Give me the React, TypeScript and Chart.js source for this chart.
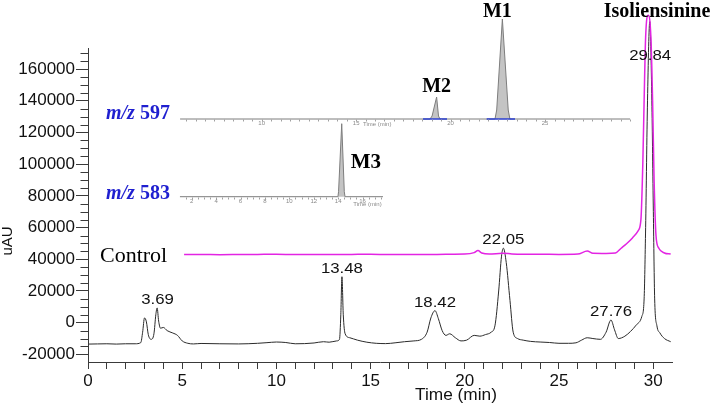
import React, { useEffect, useRef } from 'react';
import { Chart, registerables } from 'chart.js';

Chart.register(...registerables);

// ---------- main chromatogram: sample (black), Time (min) vs uAU ----------
const sampleTime = [
  0, 0.5, 1, 1.5, 2, 2.5, 2.8, 2.9, 3.0, 3.1,
  3.2, 3.35, 3.5, 3.6, 3.67, 3.75, 3.85, 4.0, 4.2, 4.5,
  4.75, 5.0, 5.3, 5.6, 6, 7, 8, 9, 9.5, 10,
  10.5, 11, 11.5, 12, 12.5, 12.8, 13.2, 13.35, 13.42, 13.48,
  13.55, 13.65, 13.9, 14.3, 14.8, 15.3, 15.8, 16.3, 16.8, 17.3,
  17.7, 18.0, 18.2, 18.42, 18.6, 18.8, 19.0, 19.2, 19.5, 19.8,
  20.1, 20.5, 20.8, 21.1, 21.4, 21.6, 21.8, 21.95, 22.05, 22.2,
  22.4, 22.57, 22.8, 23.1, 23.5, 24, 24.5, 25, 25.5, 25.9,
  26.2, 26.5, 26.8, 27.2, 27.5, 27.76, 27.95, 28.15, 28.5, 28.8,
  29.1, 29.4, 29.52, 29.6, 29.7, 29.82, 29.93, 30.01, 30.08, 30.2,
  30.36, 30.6, 30.93,
];
const sampleSignal = [
  -13500, -13400, -13300, -13500, -13300, -13300, -12600, -6000, 3000, 500,
  -7500, -10500, -7000, 5000, 9300, 1000, -3500, -3000, -5000, -6500,
  -8000, -11500, -13000, -13400, -13100, -13300, -13400, -13000, -12600, -12200,
  -12500, -13300, -13200, -12800, -12000, -12300, -11500, -10500, 5000, 29000,
  5000, -7000, -9500, -11000, -12300, -13000, -13200, -12700, -12000, -11500,
  -10500, -6000, 3000, 7600, 2500, -5000, -8000, -7000, -9500, -11500,
  -11000, -8000, -8500, -7500, -6000, -2000, 20000, 42000, 47000, 38000,
  14000, -6000, -10000, -11000, -11800, -12200, -12500, -13000, -13000, -12700,
  -11000, -9500, -10000, -10500, -6000, 1700, -4500, -10000, -8500, -5500,
  -1500, 4000, 15000, 60000, 140000, 190000, 140000, 70000, 15000, -2000,
  -6500, -10000, -12000,
];

// ---------- control (magenta) ----------
const controlTime = [
  5.1, 6, 7, 8, 9, 10, 11, 12, 13, 14,
  15, 16, 17, 18, 19, 20, 20.5, 20.7, 20.9, 21.3,
  22, 22.5, 23, 24, 25, 26, 26.5, 26.8, 27.5, 28.0,
  28.3, 28.6, 28.9, 29.2, 29.35, 29.45, 29.52, 29.6, 29.74, 29.88,
  29.97, 30.05, 30.15, 30.3, 30.6, 30.93,
];
const controlSignal = [
  43000, 43100, 42900, 43000, 43100, 43200, 43000, 43100, 43000, 43100,
  43200, 43000, 43100, 43000, 43200, 43300, 44200, 45500, 44000, 43300,
  43800, 43400, 43200, 43200, 43100, 43300, 45200, 43800, 43700, 44000,
  47000, 50000, 53500, 58000, 65000, 100000, 140000, 180000, 194000, 180000,
  140000, 90000, 55000, 47000, 44000, 43300,
];

// ---------- inset m/z 597 (own time axis, relative intensity) ----------
const mz597Time = [5.68, 18.91, 19.02, 19.26, 19.36, 19.44, 22.35, 22.44, 22.74, 23.05, 23.14, 29.5];
const mz597Signal = [0, 0, 3, 22, 3, 0, 0, 9, 100, 9, 0, 0];
const mz597BaseStart = [18.54, 21.91];
const mz597BaseEnd = [19.81, 23.41];
const mz597TickLabels = [10, 15, 20, 25];

// ---------- inset m/z 583 ----------
const mz583Time = [1.04, 13.98, 14.03, 14.29, 14.5, 14.56, 17.67];
const mz583Signal = [0, 0, 5, 73, 5, 0, 0];
const mz583TickLabels = [2, 4, 6, 8, 10, 12, 14, 16];

// ---------- main axis tick values ----------
const yTickValues = [-20000, 0, 20000, 40000, 60000, 80000, 100000, 120000, 140000, 160000];
const xTickValues = [0, 1, 2, 3, 4, 5, 6, 7, 8, 9, 10, 11, 12, 13, 14, 15, 16, 17, 18, 19, 20, 21, 22, 23, 24, 25, 26, 27, 28, 29, 30];

// ---------- peak labels (retention times) ----------
const peakLabels = ['3.69', '13.48', '18.42', '22.05', '27.76', '29.84'];

const SANS = "'Liberation Sans', Arial, sans-serif";
const SERIF = "'Liberation Serif', 'Times New Roman', serif";
const AXIS = '#3a3a3a';
const TEXT = '#111111';
const MAGENTA = '#e324e3';
const MZ_BLUE = '#1f1fd0';
const Y_AXIS_TOP = 173300;

const pts = (xs: number[], ys: number[]) => xs.map((t, i) => ({ x: t, y: ys[i] }));

const segData = () => {
  const out: any[] = [];
  mz597BaseStart.forEach((s, i) => {
    if (i > 0) out.push({ x: (mz597BaseEnd[i - 1] + s) / 2, y: null });
    out.push({ x: s, y: 0 });
    out.push({ x: mz597BaseEnd[i], y: 0 });
  });
  return out;
};

const peakHeight = (t: number) => {
  let best = -Infinity;
  sampleTime.forEach((st, i) => {
    if (Math.abs(st - t) <= 0.12) best = Math.max(best, sampleSignal[i]);
  });
  return best;
};

// text drawn slightly stretched horizontally, as in the source figure
const wideText = (ctx: CanvasRenderingContext2D, s: string, x: number, y: number, sx: number) => {
  ctx.save();
  ctx.translate(x, y);
  ctx.scale(sx, 1);
  ctx.fillText(s, 0, 0);
  ctx.restore();
};

const drawMz = (ctx: CanvasRenderingContext2D, x: number, base: number, num: string) => {
  ctx.fillStyle = MZ_BLUE;
  ctx.textAlign = 'left';
  ctx.textBaseline = 'alphabetic';
  ctx.font = `italic bold 20px ${SERIF}`;
  ctx.fillText('m/z', x, base);
  const w = ctx.measureText('m/z').width;
  ctx.font = `bold 20px ${SERIF}`;
  ctx.fillText(' ' + num, x + w, base);
};

const overlayPlugin = {
  id: 'overlay',
  afterDraw(chart: any) {
    const ctx: CanvasRenderingContext2D = chart.ctx;
    const { x, y, xA, yA, xB, yB } = chart.scales;
    const area = chart.chartArea;
    ctx.save();

    // main ordinate line (ends at top of the axis) and its minor ticks
    const ax = Math.round(area.left) + 0.5;
    ctx.strokeStyle = AXIS;
    ctx.lineWidth = 1;
    ctx.beginPath();
    ctx.moveTo(ax, y.getPixelForValue(Y_AXIS_TOP));
    ctx.lineTo(ax, Math.round(area.bottom) + 0.5);
    for (let v = -20000; v <= Y_AXIS_TOP; v += 5000) {
      if (v % 20000 === 0) continue;
      const py = Math.round(y.getPixelForValue(v)) + 0.5;
      ctx.moveTo(ax - 8, py);
      ctx.lineTo(ax, py);
    }
    ctx.stroke();

    // inset axes: tiny ticks and labels
    const insetAxis = (sx: any, sy: any, times: number[], labels: number[], titleX: number, titleDy: number, titleAlign: CanvasTextAlign) => {
      const b = Math.round(sy.getPixelForValue(0)) + 0.5;
      ctx.strokeStyle = '#a0a0a0';
      ctx.lineWidth = 1;
      ctx.beginPath();
      const from = Math.ceil(times[0] * 2) / 2;
      const to = times[times.length - 1];
      for (let t = from; t <= to + 1e-9; t += 0.5) {
        const px = Math.round(sx.getPixelForValue(t)) + 0.5;
        ctx.moveTo(px, b);
        ctx.lineTo(px, b + 2);
      }
      ctx.stroke();
      ctx.fillStyle = '#8a8a8a';
      ctx.font = `6px ${SANS}`;
      ctx.textAlign = 'center';
      ctx.textBaseline = 'middle';
      labels.forEach((l) => ctx.fillText(String(l), sx.getPixelForValue(l), b + 3.5));
      ctx.textAlign = titleAlign;
      ctx.fillText('Time (min)', sx.getPixelForValue(titleX), b + titleDy);
    };
    insetAxis(xA, yA, mz597Time, mz597TickLabels, 15.36, 5, 'left');
    insetAxis(xB, yB, mz583Time, mz583TickLabels, 16.4, 6.5, 'center');

    // retention-time labels
    ctx.fillStyle = TEXT;
    ctx.font = `15px ${SANS}`;
    ctx.textAlign = 'center';
    ctx.textBaseline = 'alphabetic';
    peakLabels.forEach((lab) => {
      const t = parseFloat(lab);
      const py = Math.max(y.getPixelForValue(peakHeight(t)) - 4, area.top + 60);
      wideText(ctx, lab, x.getPixelForValue(t), py, 1.12);
    });

    // compound / trace names
    ctx.fillStyle = '#000';
    ctx.textAlign = 'center';
    ctx.font = `bold 20px ${SERIF}`;
    ctx.fillText('M1', xA.getPixelForValue(22.74) - 5, 17);
    ctx.fillText('Isoliensinine', 657, 17);
    ctx.fillText('M2', xA.getPixelForValue(19.26), yA.getPixelForValue(22) - 5);
    ctx.textAlign = 'left';
    ctx.font = `bold 21px ${SERIF}`;
    ctx.fillText('M3', xB.getPixelForValue(14.29) + 9, 168);

    drawMz(ctx, 106, Math.round(yA.getPixelForValue(0)), '597');
    drawMz(ctx, 106, Math.round(yB.getPixelForValue(0)) + 2, '583');

    ctx.fillStyle = '#000';
    ctx.textAlign = 'left';
    ctx.font = `22px ${SERIF}`;
    ctx.fillText('Control', 100, y.getPixelForValue(43000) + 7);

    // axis titles
    ctx.fillStyle = TEXT;
    ctx.font = `16px ${SANS}`;
    ctx.textAlign = 'center';
    ctx.textBaseline = 'middle';
    wideText(ctx, 'Time (min)', 456, 396, 1.08);
    ctx.save();
    ctx.translate(8, 241);
    ctx.rotate(-Math.PI / 2);
    ctx.font = `15px ${SANS}`;
    ctx.fillText('uAU', 0, 0);
    ctx.restore();

    ctx.restore();
  },
};

export default function App() {
  const ref = useRef<HTMLCanvasElement>(null);
  useEffect(() => {
    const canvas = ref.current;
    if (!canvas) return;
    const chart = new Chart(canvas, {
      type: 'line',
      data: {
        datasets: [
          {
            label: 'Control',
            data: pts(controlTime, controlSignal),
            borderColor: MAGENTA,
            borderWidth: 1.5,
            pointRadius: 0,
            cubicInterpolationMode: 'monotone',
            fill: false,
            xAxisID: 'x',
            yAxisID: 'y',
          },
          {
            label: 'Sample',
            data: pts(sampleTime, sampleSignal),
            borderColor: '#2a2a2a',
            borderWidth: 1,
            pointRadius: 0,
            cubicInterpolationMode: 'monotone',
            fill: false,
            xAxisID: 'x',
            yAxisID: 'y',
          },
          {
            label: 'm/z 597 baseline',
            data: segData(),
            borderColor: '#2b3fcf',
            borderWidth: 1.5,
            pointRadius: 0,
            spanGaps: false,
            tension: 0,
            fill: false,
            xAxisID: 'xA',
            yAxisID: 'yA',
          },
          {
            label: 'm/z 597',
            data: pts(mz597Time, mz597Signal),
            borderColor: '#7d7d7d',
            backgroundColor: '#c4c4c4',
            borderWidth: 1,
            pointRadius: 0,
            tension: 0,
            fill: { value: 0 },
            xAxisID: 'xA',
            yAxisID: 'yA',
          },
          {
            label: 'm/z 583',
            data: pts(mz583Time, mz583Signal),
            borderColor: '#7d7d7d',
            backgroundColor: '#c4c4c4',
            borderWidth: 1,
            pointRadius: 0,
            tension: 0,
            fill: { value: 0 },
            xAxisID: 'xB',
            yAxisID: 'yB',
          },
        ] as any,
      },
      options: {
        responsive: false,
        devicePixelRatio: 1,
        animation: false,
        events: [],
        layout: { padding: { left: 0, right: 43, top: 0, bottom: 0 } },
        plugins: { legend: { display: false }, tooltip: { enabled: false } },
        scales: {
          x: {
            type: 'linear',
            position: 'bottom',
            min: 0,
            max: 31,
            afterFit: (s: any) => {
              s.height = 46;
              s.paddingLeft = 0;
              s.paddingRight = 0;
            },
            afterBuildTicks: (s: any) => {
              s.ticks = xTickValues.map((v) => ({ value: v }));
            },
            ticks: {
              autoSkip: false,
              maxRotation: 0,
              padding: 2,
              color: TEXT,
              font: { family: SANS, size: 17 },
              callback: (v: any) => (Math.round(v) % 5 === 0 ? String(Math.round(v)) : ''),
            },
            grid: { display: true, drawOnChartArea: false, drawTicks: true, tickLength: 7, color: AXIS },
            border: { display: true, color: AXIS, width: 1 },
          },
          y: {
            type: 'linear',
            position: 'left',
            min: -24800,
            max: 203600,
            afterFit: (s: any) => {
              s.width = 88;
              s.paddingTop = 0;
              s.paddingBottom = 0;
            },
            afterBuildTicks: (s: any) => {
              s.ticks = yTickValues.map((v) => ({ value: v }));
            },
            ticks: {
              autoSkip: false,
              padding: 1,
              color: TEXT,
              font: { family: SANS, size: 17 },
              callback: (v: any) => String(v),
            },
            grid: { display: true, drawOnChartArea: false, drawTicks: true, tickLength: 12, color: AXIS },
            border: { display: false },
          },
          xA: { type: 'linear', display: false, min: 0.805, max: 31.72 },
          yA: { type: 'linear', display: false, min: -243, max: 119 },
          xB: { type: 'linear', display: false, min: -6.49, max: 41.34 },
          yB: { type: 'linear', display: false, min: -165.3, max: 196.7 },
        },
      } as any,
      plugins: [overlayPlugin],
    });
    return () => chart.destroy();
  }, []);
  return (
    <div style={{ position: 'absolute', left: 0, top: 0, width: 715, height: 408 }}>
      <canvas ref={ref} width={715} height={408} style={{ display: 'block', width: 715, height: 408 }} />
    </div>
  );
}
